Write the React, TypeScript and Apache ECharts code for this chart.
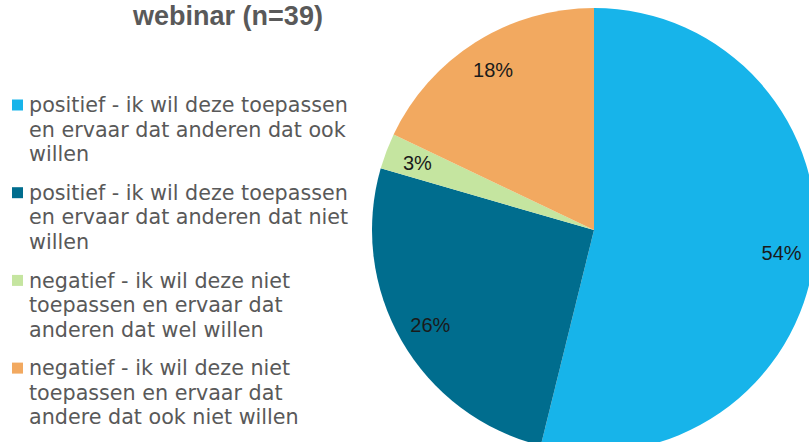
import React, { useEffect, useRef } from "react";
import * as echarts from "echarts";

const title = "webinar (n=39)";
const categories = [
  "positief - ik wil deze toepassen\nen ervaar dat anderen dat ook\nwillen",
  "positief - ik wil deze toepassen\nen ervaar dat anderen dat niet\nwillen",
  "negatief - ik wil deze niet\ntoepassen en ervaar dat\nanderen dat wel willen",
  "negatief - ik wil deze niet\ntoepassen en ervaar dat\nandere dat ook niet willen",
];
const percents = [53.8, 25.6, 2.6, 17.9];
const colors = ["#17B4EA", "#006D8E", "#C5E5A0", "#F2A960"];

export default function App() {
  const ref = useRef<HTMLDivElement>(null);
  useEffect(() => {
    if (!ref.current) return;
    const chart = echarts.init(ref.current, null, { renderer: "svg" });
    const data = categories.map((name, i) => ({
      name,
      value: percents[i],
      itemStyle: { color: colors[i] },
    }));
    const legendTop = 105;
    const legendStep = 87.7;
    const legendGraphics: any[] = [];
    categories.forEach((name, i) => {
      const yc = legendTop + i * legendStep;
      legendGraphics.push({
        type: "rect",
        shape: { x: 12, y: yc - 5.5, width: 11, height: 11 },
        style: { fill: colors[i] },
        silent: true,
      });
      legendGraphics.push({
        type: "text",
        x: 29,
        y: yc - 12,
        style: {
          text: name,
          fill: "#595959",
          font: "20.7px 'DejaVu Sans', Verdana, sans-serif",
          lineHeight: 24.5,
          verticalAlign: "top",
          align: "left",
        },
        silent: true,
      });
    });
    chart.setOption({
      animation: false,
      title: {
        text: title,
        left: 228,
        textAlign: "center",
        top: 2,
        padding: 0,
        textStyle: {
          fontSize: 27,
          fontWeight: "bold",
          color: "#595959",
          fontFamily: "'Liberation Sans', Arial, sans-serif",
        },
      },
      graphic: legendGraphics,
      series: [
        {
          type: "pie",
          center: [594, 230],
          radius: [0, 222],
          startAngle: 90,
          clockwise: true,
          avoidLabelOverlap: false,
          label: { show: false },
          labelLine: { show: false },
          itemStyle: { borderWidth: 0 },
          silent: true,
          data,
        },
        {
          type: "pie",
          center: [594, 230],
          radius: [0, 372],
          startAngle: 90,
          clockwise: true,
          avoidLabelOverlap: false,
          silent: true,
          itemStyle: { color: "rgba(0,0,0,0)", borderWidth: 0 },
          label: {
            show: true,
            position: "inside",
            formatter: (p: any) => Math.round(p.value) + "%",
            color: "#1a1a1a",
            fontSize: 20,
            fontFamily: "'Liberation Sans', Arial, sans-serif",
          },
          labelLine: { show: false },
          data: percents.map((v, i) => ({ name: categories[i], value: v })),
        },
      ],
    });
    return () => chart.dispose();
  }, []);
  return (
    <div
      ref={ref}
      style={{ position: "absolute", left: 0, top: 0, width: 809, height: 442 }}
    />
  );
}
